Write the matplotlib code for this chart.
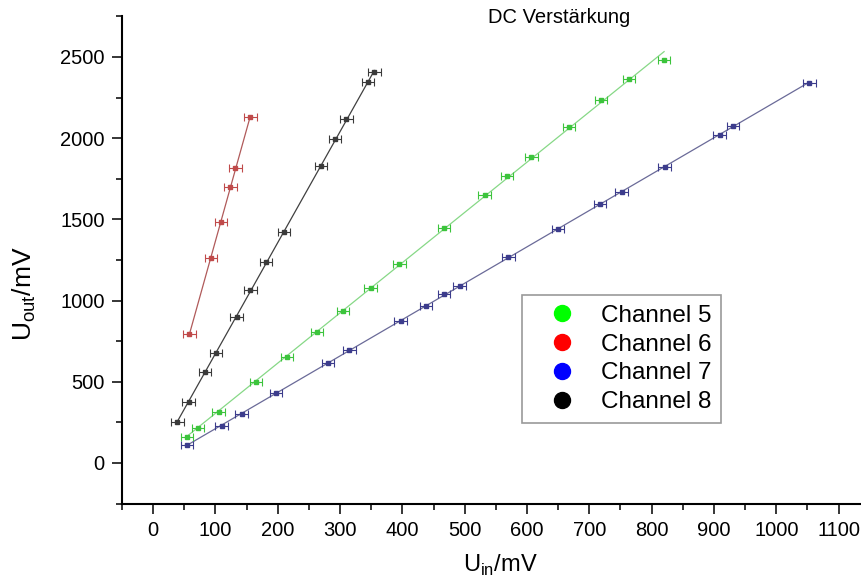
import matplotlib
matplotlib.use("Agg")
import matplotlib.pyplot as plt
from matplotlib.lines import Line2D
from matplotlib.ticker import MultipleLocator
import numpy as np

plt.rcParams['font.family'] = ['Liberation Sans', 'DejaVu Sans']

# input / output voltages in mV for each channel
ch5_in = [54, 72, 105, 165, 215, 263, 305, 349, 395, 467, 532, 568, 607, 667, 719, 764, 820]
ch5_out = [162, 214, 316, 501, 655, 808, 938, 1079, 1225, 1449, 1650, 1767, 1886, 2071, 2235, 2363, 2482]

ch6_in = [58, 93, 109, 124, 132, 156]
ch6_out = [794, 1264, 1486, 1698, 1818, 2132]

ch7_in = [54, 110, 142, 197, 281, 315, 397, 438, 467, 492, 570, 650, 717, 752, 821, 909, 931, 1053]
ch7_out = [111, 230, 300, 429, 618, 696, 874, 967, 1039, 1090, 1267, 1441, 1595, 1671, 1825, 2020, 2075, 2342]

ch8_in = [39, 57, 83, 101, 134, 156, 181, 210, 269, 292, 310, 345, 355]
ch8_out = [251, 377, 562, 679, 901, 1065, 1236, 1420, 1829, 1993, 2118, 2344, 2406]

in_err = 10  # mV, reading uncertainty on U_in

labels = ['Channel 5', 'Channel 6', 'Channel 7', 'Channel 8']
legend_colors = ['#00ff00', '#ff0000', '#0000ff', '#000000']
bar_colors = ['#3cc43c', '#c04a4a', '#3c3c8c', '#3a3a3a']
fit_colors = ['#86d886', '#b05a5a', '#6a6a98', '#404040']

channels = [(ch5_in, ch5_out), (ch6_in, ch6_out), (ch7_in, ch7_out), (ch8_in, ch8_out)]

fig = plt.figure(figsize=(8.61, 5.81), dpi=100)
ax = fig.add_axes([122/861, 1 - 503.6/581, 1 - 122/861, 487.2/581])

for (u_in, u_out), c_bar, c_fit in zip(channels, bar_colors, fit_colors):
    u_in = np.array(u_in)
    u_out = np.array(u_out)
    # linear fit over the measured range
    m, b = np.polyfit(u_in, u_out, 1)
    xs = np.array([u_in.min(), u_in.max()])
    ax.plot(xs, m * xs + b, color=c_fit, lw=0.9, zorder=2)
    ax.errorbar(u_in, u_out, xerr=in_err, fmt='s', ms=2.2, color=c_bar,
                ecolor=c_bar, elinewidth=0.8, capsize=2.8, capthick=0.8, zorder=3)

ax.set_xlim(-50, 1136)
ax.set_ylim(-250, 2750)
ax.xaxis.set_major_locator(MultipleLocator(100))
ax.xaxis.set_minor_locator(MultipleLocator(50))
ax.yaxis.set_major_locator(MultipleLocator(500))
ax.yaxis.set_minor_locator(MultipleLocator(250))

for side in ['top', 'right']:
    ax.spines[side].set_visible(False)
for side in ['left', 'bottom']:
    ax.spines[side].set_linewidth(1.5)

ax.tick_params(which='major', length=7.5, width=1.1, labelsize=14.5, pad=5)
ax.tick_params(which='minor', length=4, width=1.1)

fig.text(24/861, 1 - 294/581, r'U$_{\mathregular{out}}$/mV', rotation=90,
         ha='center', va='center', fontsize=19)
fig.text(500/861, 1 - 572/581, r'U$_{\mathregular{in}}$/mV',
         ha='center', va='baseline', fontsize=17)
fig.text(559/861, 1 - 23/581, 'DC Verstärkung', ha='center', va='baseline', fontsize=14.5)

handles = [Line2D([], [], ls='none', marker='o', ms=11.5, mfc=c, mec=c) for c in legend_colors]
leg = ax.legend(handles, labels, loc='upper left', bbox_to_anchor=(522/861, 1 - 295/581),
                bbox_transform=fig.transFigure, fontsize=17.5, frameon=True, fancybox=False,
                borderpad=0.4, handlelength=2.5, handletextpad=0.35, labelspacing=0.28,
                borderaxespad=0, numpoints=1)
leg.get_frame().set_edgecolor('#808080')
leg.get_frame().set_linewidth(1.2)

fig.savefig('out.png', dpi=100)
